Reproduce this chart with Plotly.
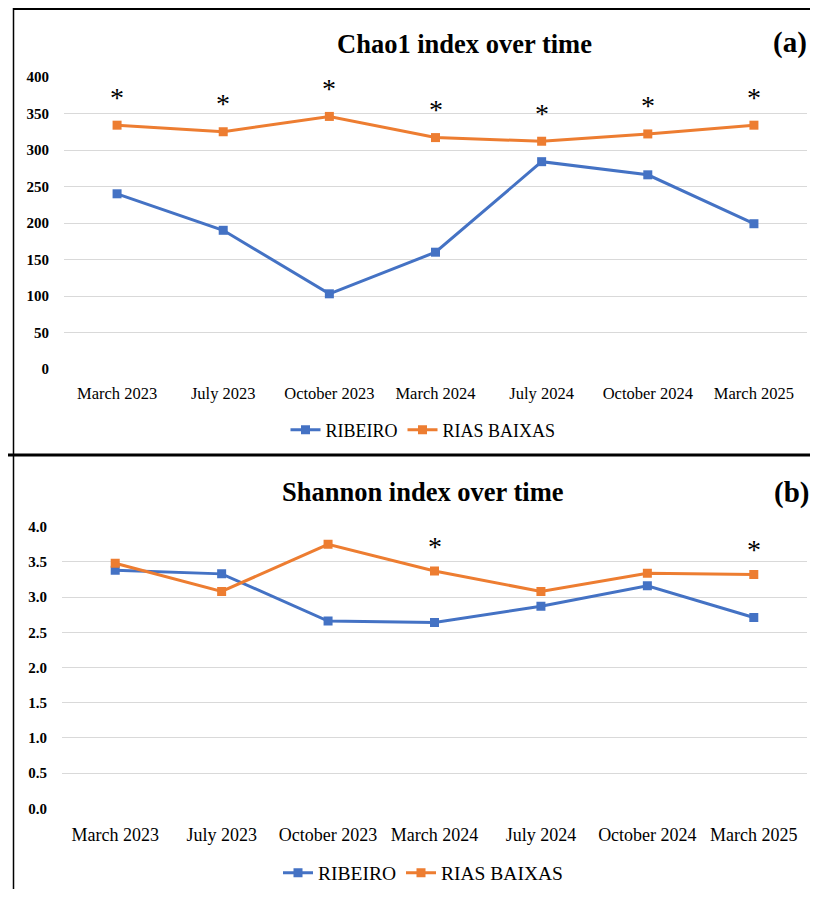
import plotly.graph_objects as go

# ---------------- data ----------------
months = ["March 2023", "July 2023", "October 2023", "March 2024",
          "July 2024", "October 2024", "March 2025"]

chao_ribeiro = [240, 190, 103, 160, 284, 266, 199]
chao_rias = [334, 325, 346, 317, 312, 322, 334]
chao_sig = [True, True, True, True, True, True, True]

shannon_ribeiro = [3.38, 3.33, 2.66, 2.64, 2.87, 3.16, 2.71]
shannon_rias = [3.48, 3.08, 3.75, 3.37, 3.08, 3.34, 3.32]
shannon_sig = [False, False, False, True, False, False, True]

y_ticks_a = [0, 50, 100, 150, 200, 250, 300, 350, 400]
y_ticks_b = [0.0, 0.5, 1.0, 1.5, 2.0, 2.5, 3.0, 3.5, 4.0]

# ---------------- styling ----------------
OFF = 8                      # page body margin
W, H = 818 - 2 * OFF, 897 - 2 * OFF
BLUE = "#4472C4"
ORANGE = "#ED7D31"
FONT = "Liberation Serif"
GRID = "#D9D9D9"


def px_x(p):
    return (p - OFF) / W


def px_y(p):
    return 1 - (p - OFF) / H


fig = go.Figure()
xs = list(range(len(months)))


def add_pair(rib, rias, xa, ya, legend):
    fig.add_trace(go.Scatter(
        x=xs, y=rib, name="RIBEIRO", mode="lines+markers",
        line=dict(color=BLUE, width=3),
        marker=dict(symbol="square", size=9, color=BLUE),
        xaxis=xa, yaxis=ya, legend=legend))
    fig.add_trace(go.Scatter(
        x=xs, y=rias, name="RIAS BAIXAS", mode="lines+markers",
        line=dict(color=ORANGE, width=3),
        marker=dict(symbol="square", size=9, color=ORANGE),
        xaxis=xa, yaxis=ya, legend=legend))


add_pair(chao_ribeiro, chao_rias, "x", "y", "legend")
add_pair(shannon_ribeiro, shannon_rias, "x2", "y2", "legend2")

common_x = dict(
    tickmode="array", tickvals=xs, ticktext=months, range=[-0.5, 6.5],
    showgrid=False, zeroline=False, showline=False, ticks="",
    automargin=False,
)
common_y = dict(
    showgrid=True, gridcolor=GRID, gridwidth=1, zeroline=False,
    showline=False, ticks="", tickmode="array", automargin=False,
)

fig.update_layout(
    width=W, height=H,
    margin=dict(l=0, r=0, t=0, b=0, autoexpand=False),
    paper_bgcolor="white", plot_bgcolor="white",
    font=dict(family=FONT, color="black"),
    xaxis=dict(**common_x, domain=[px_x(64), px_x(807)], anchor="y",
               tickfont=dict(family=FONT, size=16.5, color="black"),
               ticklabelstandoff=12),
    yaxis=dict(**common_y, domain=[px_y(369), px_y(77)], anchor="x",
               range=[0, 400], tickvals=y_ticks_a,
               ticktext=[str(v) for v in y_ticks_a],
               tickfont=dict(family=FONT, size=15, color="black", weight="bold"),
               ticklabelstandoff=14),
    xaxis2=dict(**common_x, domain=[px_x(62), px_x(807)], anchor="y2",
                tickfont=dict(family=FONT, size=18, color="black"),
                ticklabelstandoff=14),
    yaxis2=dict(**common_y, domain=[px_y(808.3), px_y(526.7)], anchor="x2",
                range=[0, 4], tickvals=y_ticks_b,
                ticktext=[f"{v:.1f}" for v in y_ticks_b],
                tickfont=dict(family=FONT, size=15, color="black", weight="bold"),
                ticklabelstandoff=14),
    legend=dict(orientation="h", x=px_x(423), y=px_y(430),
                xanchor="center", yanchor="middle",
                font=dict(family=FONT, size=18, color="black"),
                bgcolor="rgba(0,0,0,0)", itemwidth=30),
    legend2=dict(orientation="h", x=px_x(423), y=px_y(873),
                 xanchor="center", yanchor="middle",
                 font=dict(family=FONT, size=19.5, color="black"),
                 bgcolor="rgba(0,0,0,0)", itemwidth=30),
    showlegend=True,
)

annotations = [
    dict(text="<b>Chao1 index over time</b>", x=px_x(464), y=px_y(44),
         xref="paper", yref="paper", showarrow=False,
         xanchor="center", yanchor="middle",
         font=dict(family=FONT, size=26.5, color="black")),
    dict(text="<b>(a)</b>", x=px_x(790), y=px_y(43),
         xref="paper", yref="paper", showarrow=False,
         xanchor="center", yanchor="middle",
         font=dict(family=FONT, size=29, color="black")),
    dict(text="<b>Shannon index over time</b>", x=px_x(423), y=px_y(492),
         xref="paper", yref="paper", showarrow=False,
         xanchor="center", yanchor="middle",
         font=dict(family=FONT, size=26.5, color="black")),
    dict(text="<b>(b)</b>", x=px_x(791), y=px_y(492),
         xref="paper", yref="paper", showarrow=False,
         xanchor="center", yanchor="middle",
         font=dict(family=FONT, size=29, color="black")),
]

for i, s in enumerate(chao_sig):
    if s:
        annotations.append(dict(
            text="*", x=xs[i], y=max(chao_rias[i], chao_ribeiro[i]),
            xref="x", yref="y", showarrow=False, yanchor="middle",
            xanchor="center", yshift=28,
            font=dict(family=FONT, size=28, color="black")))
for i, s in enumerate(shannon_sig):
    if s:
        annotations.append(dict(
            text="*", x=xs[i], y=max(shannon_rias[i], shannon_ribeiro[i]),
            xref="x2", yref="y2", showarrow=False, yanchor="middle",
            xanchor="center", yshift=25,
            font=dict(family=FONT, size=28, color="black")))

fig.update_layout(annotations=annotations)

shapes = [
    # panel (a) frame top
    dict(type="line", xref="paper", yref="paper",
         x0=px_x(13), x1=1, y0=px_y(9), y1=px_y(9),
         line=dict(color="black", width=2)),
    # left frame
    dict(type="line", xref="paper", yref="paper",
         x0=px_x(13.5), x1=px_x(13.5), y0=px_y(8), y1=0,
         line=dict(color="black", width=1.5)),
    # separator between panels
    dict(type="line", xref="paper", yref="paper",
         x0=0, x1=1, y0=px_y(455), y1=px_y(455),
         line=dict(color="black", width=3)),
]
fig.update_layout(shapes=shapes)

fig.write_html("out.html")
